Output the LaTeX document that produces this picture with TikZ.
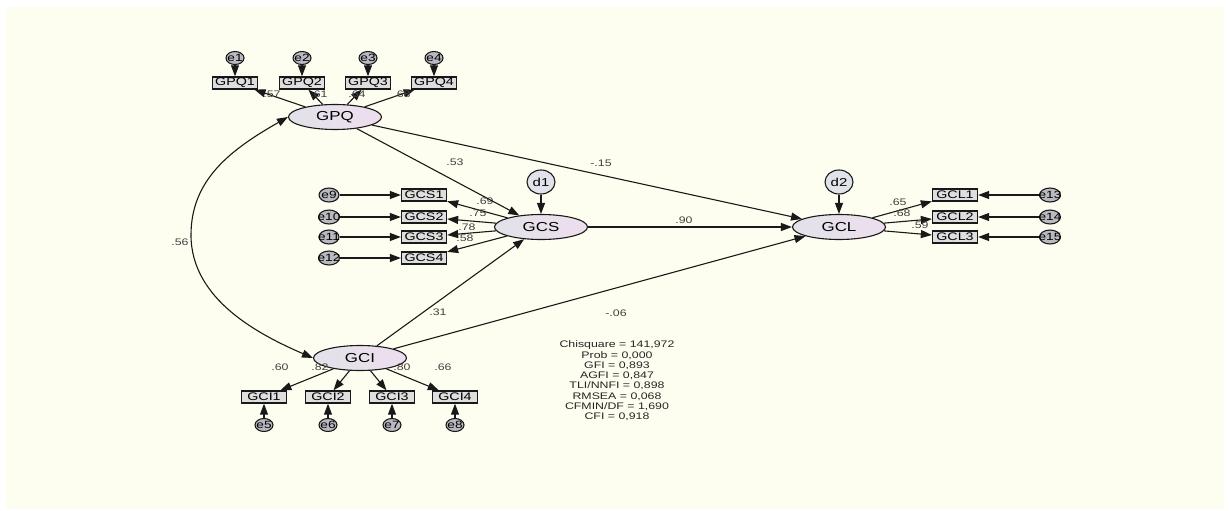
\documentclass[tikz,border=0pt]{standalone}
\usepackage{fontspec}
\setmainfont{Liberation Sans}[FakeStretch=1.3]
\usetikzlibrary{arrows.meta,shapes.geometric}
\definecolor{paper}{RGB}{254,254,240}
\definecolor{latA}{RGB}{226,226,234}
\definecolor{latB}{RGB}{238,222,238}
\definecolor{obsfill}{RGB}{222,222,222}
\definecolor{errfill}{RGB}{185,185,192}
\definecolor{ink}{RGB}{25,25,25}
\tikzset{
  lat/.style={draw=ink,line width=1.1pt,ellipse,left color=latA,right color=latB,minimum width=93pt,minimum height=25pt,inner sep=0pt,font=\fontsize{13}{15}\selectfont},
  dist/.style={draw=ink,line width=1.1pt,ellipse,fill=latA,minimum width=28pt,minimum height=24pt,inner sep=0pt,font=\fontsize{11.5}{13}\selectfont},
  obs/.style={draw=ink,line width=1.3pt,fill=obsfill,minimum width=45pt,minimum height=12pt,inner sep=0pt,font=\fontsize{11}{12}\selectfont},
  err/.style={draw=ink,line width=1.1pt,ellipse,fill=errfill,minimum width=18pt,minimum height=13pt,inner xsep=-4pt,inner ysep=-1pt,font=\fontsize{10.5}{11}\selectfont},
  arr/.style={-{Triangle[length=11pt,width=8pt]},line width=1.1pt,draw=ink},
  darr/.style={{Triangle[length=11pt,width=8pt]}-{Triangle[length=11pt,width=8pt]},line width=1.1pt,draw=ink},
  coef/.style={font=\fontsize{9.5}{11}\selectfont,text=black!75,inner sep=0pt},
}
\begin{document}
\begin{tikzpicture}[x=1pt,y=-1pt]
\useasboundingbox (0,0) rectangle (1229,511);
\fill[paper] (6,7) rectangle (1224,509);

% latent variables and disturbances
\node[lat] (gpq) at (335,117) {GPQ};
\node[lat] (gcs) at (541,227) {GCS};
\node[lat] (gcl) at (839,227) {GCL};
\node[lat] (gci) at (360,358) {GCI};
\node[dist] (d1) at (541,182) {d1};
\node[dist] (d2) at (839,182) {d2};

% GPQ indicators
\foreach \i/\x/\c/\lx in {1/235/.57/272,2/302/.61/319,3/368/.64/357,4/434/.68/402} {
  \node[obs] (gpq\i) at (\x,83) {GPQ\i};
  \node[err] (e\i) at (\x,58) {e\i};
  \draw[arr] (e\i) -- (gpq\i);
  \draw[arr] (gpq) -- (gpq\i);
  \node[coef] (lq\i) at (\lx,94) {\c};
}

% GCS indicators
\foreach \i/\e/\y/\c/\lx/\ly in {1/9/195/.69/485/201,2/10/217/.75/478/213,3/11/237/.78/467/227,4/12/258/.58/465/238} {
  \node[obs] (gcs\i) at (424,\y) {GCS\i};
  \node[err,minimum width=20pt,minimum height=14pt] (e\e) at (329,\y) {e\e};
  \draw[arr] (e\e) -- (gcs\i);
  \draw[arr] (gcs) -- (gcs\i);
  \node[coef] (ls\i) at (\lx,\ly) {\c};
}

% GCL indicators
\foreach \i/\e/\y/\c/\lx/\ly in {1/13/195/.65/898/202,2/14/217/.68/902/213,3/15/237/.59/920/225} {
  \node[obs] (gcl\i) at (955,\y) {GCL\i};
  \node[err,minimum width=20pt,minimum height=14pt] (e\e) at (1050,\y) {e\e};
  \draw[arr] (e\e) -- (gcl\i);
  \draw[arr] (gcl) -- (gcl\i);
  \node[coef] (ll\i) at (\lx,\ly) {\c};
}

% GCI indicators
\foreach \i/\e/\x/\c/\lx in {1/5/264/.60/280,2/6/328/.82/320,3/7/392/.80/402,4/8/455/.66/443} {
  \node[obs] (gci\i) at (\x,397) {GCI\i};
  \node[err] (e\e) at (\x,425) {e\e};
  \draw[arr] (e\e) -- (gci\i);
  \draw[arr] (gci) -- (gci\i);
  \node[coef] (li\i) at (\lx,367) {\c};
}

% structural paths
\draw[arr] (d1) -- (gcs);
\draw[arr] (d2) -- (gcl);
\draw[arr] (gpq) -- (gcs);
\draw[arr] (gci) -- (gcs);
\draw[arr] (gcs) -- (gcl);
\draw[arr] (gpq) -- (gcl);
\draw[arr] (gci) -- (gcl);
\draw[darr] (gpq.west) .. controls (230,150) and (191,180) .. (191,235)
  .. controls (191,300) and (260,335) .. (gci.west);
\node[coef] (p53) at (455,162) {.53};
\node[coef] (p31) at (438,312) {.31};
\node[coef] (p90) at (684,220) {.90};
\node[coef] (p15) at (601,163) {-.15};
\node[coef] (p06) at (616,313) {-.06};
\node[coef] (p56) at (180,242) {.56};

% fit indices
\node[font=\fontsize{9.5}{10.3}\selectfont,text=black!85,align=center,inner sep=0pt] (fit) at (617,381)
  {Chisquare = 141,972\\Prob = 0,000\\GFI = 0,893\\AGFI = 0,847\\TLI/NNFI = 0,898\\RMSEA = 0,068\\CFMIN/DF = 1,690\\CFI = 0,918};
\end{tikzpicture}
\end{document}
